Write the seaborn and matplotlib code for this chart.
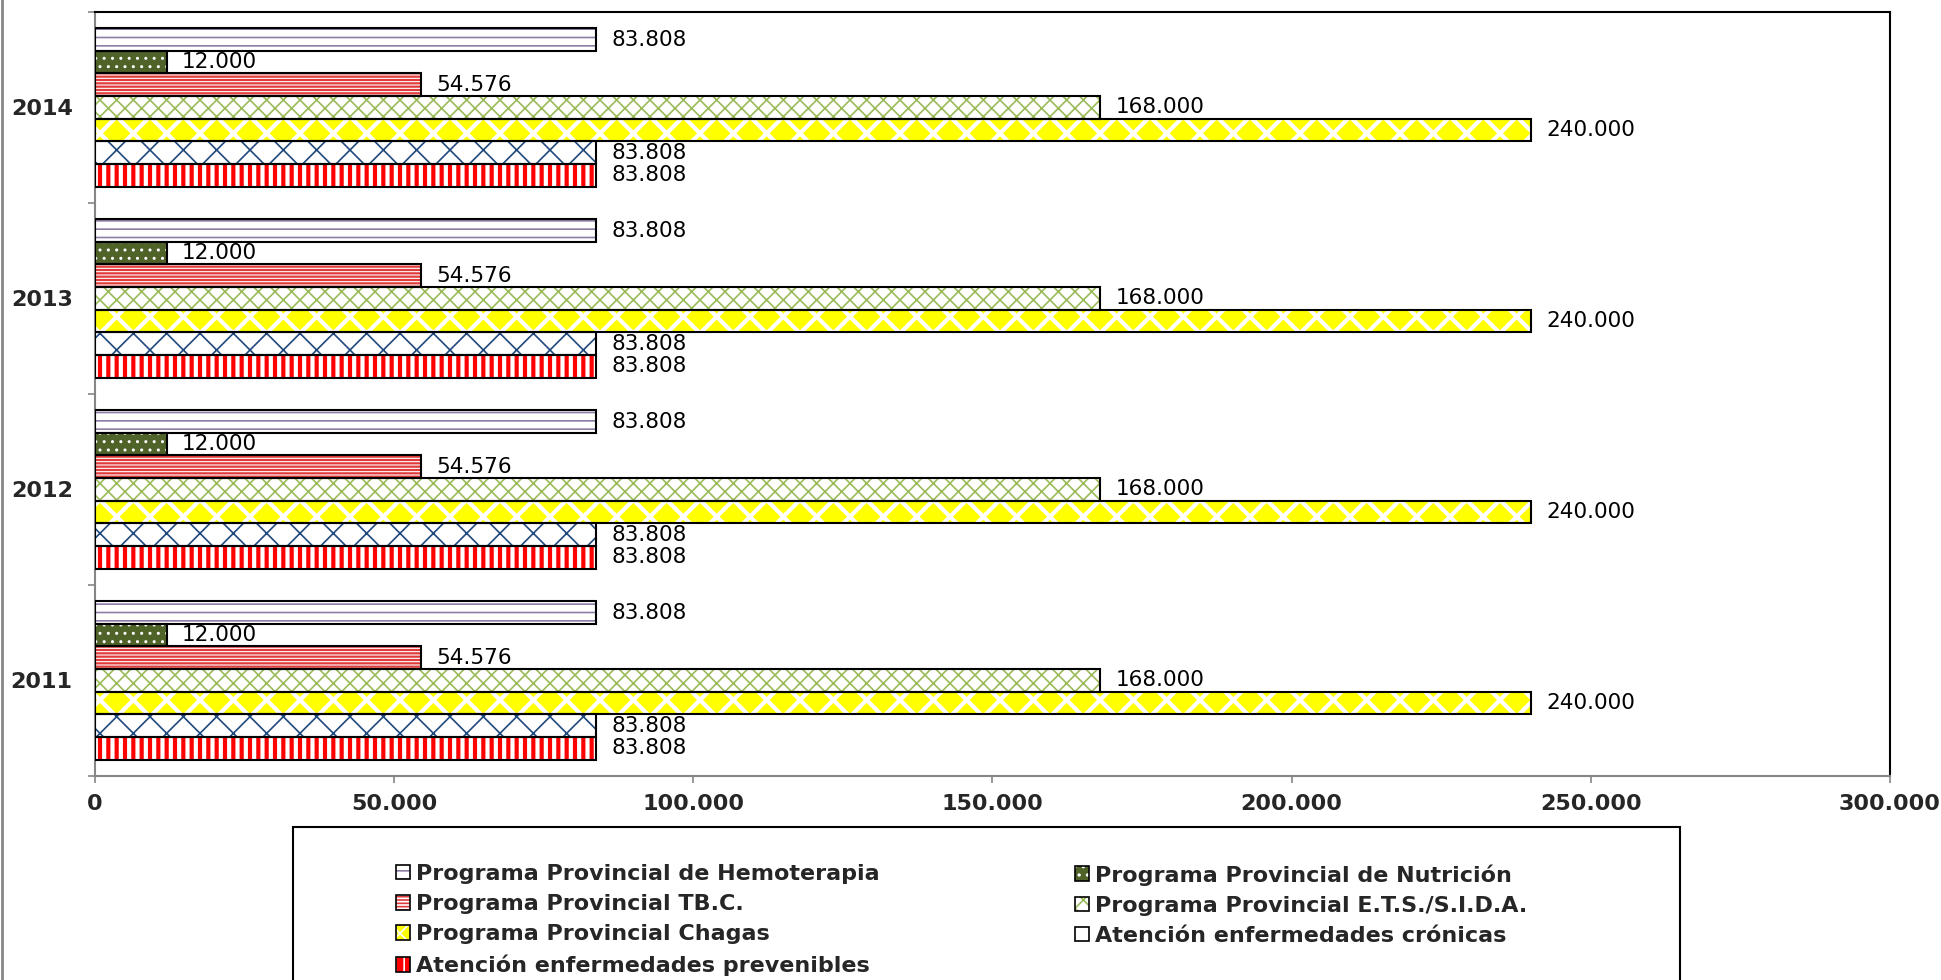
import pandas as pd
import matplotlib
matplotlib.use("Agg")
import matplotlib.pyplot as plt
import seaborn as sns
from matplotlib.patches import Patch, Rectangle
from matplotlib.lines import Line2D
from matplotlib.ticker import FuncFormatter

# --- data ---------------------------------------------------------------
years = ["2014", "2013", "2012", "2011"]
programs = [
    "Programa Provincial de Hemoterapia",
    "Programa Provincial de Nutrición",
    "Programa Provincial TB.C.",
    "Programa Provincial E.T.S./S.I.D.A.",
    "Programa Provincial Chagas",
    "Atención enfermedades crónicas",
    "Atención enfermedades prevenibles",
]
amounts_2014 = [83808, 12000, 54576, 168000, 240000, 83808, 83808]
amounts_2013 = [83808, 12000, 54576, 168000, 240000, 83808, 83808]
amounts_2012 = [83808, 12000, 54576, 168000, 240000, 83808, 83808]
amounts_2011 = [83808, 12000, 54576, 168000, 240000, 83808, 83808]
x_ticks = [0, 50000, 100000, 150000, 200000, 250000, 300000]

# --- styles (excel-like pattern fills) ---------------------------------
face_colors = ["white", "#4F6228", "#E03A3A", "white", "#FFFF00", "white", "#FF0000"]
hatch_colors = ["#8E7CA8", "white", "white", "#9BBB59", "white", "#1F497D", "white"]
hatches = ["--", "..", "-----", "xx", "x", "x", "||"]
hatch_widths = [1.2, 1.0, 0.8, 1.2, 3.0, 1.2, 3.0]


def miles(v, pos=None):
    return f"{v:,.0f}".replace(",", ".")


rows = []
for year, vals in zip(years, [amounts_2014, amounts_2013, amounts_2012, amounts_2011]):
    for prog, v in zip(programs, vals):
        rows.append({"year": year, "program": prog, "amount": v})
df = pd.DataFrame(rows)

sns.set_style("white")
plt.rcParams["font.family"] = ["DejaVu Sans"]
plt.rcParams["hatch.linewidth"] = 1.2

fig = plt.figure(figsize=(19.41, 9.8), dpi=100)
ax = fig.add_axes([0.0489, 0.2082, 0.9248, 0.7796])

sns.barplot(data=df, x="amount", y="year", hue="program", order=years,
            hue_order=programs, orient="h", width=0.83, errorbar=None,
            palette=dict(zip(programs, face_colors)), saturation=1,
            legend=False, ax=ax)

for i, cont in enumerate(ax.containers):
    for p in cont.patches:
        p.set_edgecolor(hatch_colors[i])
        p.set_hatch(hatches[i])
        p.set_linewidth(0)
        if hasattr(p, "set_hatch_linewidth"):
            p.set_hatch_linewidth(hatch_widths[i])
        ax.add_patch(Rectangle(p.get_xy(), p.get_width(), p.get_height(),
                               fill=False, ec="black", lw=1.5, zorder=3))
    ax.bar_label(cont, labels=[miles(v) for v in cont.datavalues], padding=11,
                 fontsize=15.5, color="black")

ax.set_xlim(0, 300000)
ax.set_ylim(3.5, -0.5)
ax.set_xticks(x_ticks)
ax.xaxis.set_major_formatter(FuncFormatter(miles))
ax.set_yticks([-0.5, 0.5, 1.5, 2.5, 3.5])
ax.set_yticklabels([])
ax.set_yticks(range(len(years)), minor=True)
ax.set_yticklabels(years, minor=True, fontweight="bold", fontsize=16)
ax.set_xlabel("")
ax.set_ylabel("")

for lbl in ax.get_xticklabels():
    lbl.set_fontweight("bold")
    lbl.set_fontsize(16)

ax.tick_params(axis="x", which="major", length=5, width=1.2, color="#868686",
               pad=8, direction="out", bottom=True)
ax.tick_params(axis="y", which="major", length=5, width=1.2, color="#868686",
               direction="out", left=True)
ax.tick_params(axis="y", which="minor", length=0, pad=16)

for side in ["left", "bottom"]:
    ax.spines[side].set_color("#868686")
    ax.spines[side].set_linewidth(1.5)
for side in ["top", "right"]:
    ax.spines[side].set_color("black")
    ax.spines[side].set_linewidth(1.5)
    ax.spines[side].set_visible(True)

# legend (two columns, filled row by row like the original)
handles = []
for fc, hc, h in zip(face_colors, hatch_colors, hatches):
    handles.append((Patch(facecolor=fc, edgecolor=hc, hatch=h, lw=0),
                    Patch(fill=False, edgecolor="black", lw=1.2)))
leg_kw = dict(frameon=False, loc="upper left",
              prop={"weight": "bold", "size": 16}, handlelength=0.63,
              handleheight=0.63, handletextpad=0.25, labelspacing=0.46,
              borderpad=0, borderaxespad=0)
col1 = [0, 2, 4, 6]
col2 = [1, 3, 5]
fig.legend([handles[i] for i in col1], [programs[i] for i in col1],
           bbox_to_anchor=(396 / 1941, 1 - 864 / 980), **leg_kw)
fig.legend([handles[i] for i in col2], [programs[i] for i in col2],
           bbox_to_anchor=(1075 / 1941, 1 - 864 / 980), **leg_kw)

fig.add_artist(Rectangle((293 / 1941, -0.05), 1387 / 1941, 0.05 + (980 - 827) / 980,
                         transform=fig.transFigure, fill=False, ec="black", lw=1.5))
fig.add_artist(Line2D([0.0012, 0.0012], [0, 1], transform=fig.transFigure,
                      color="#868686", lw=2))

fig.savefig("out.png", dpi=100)
